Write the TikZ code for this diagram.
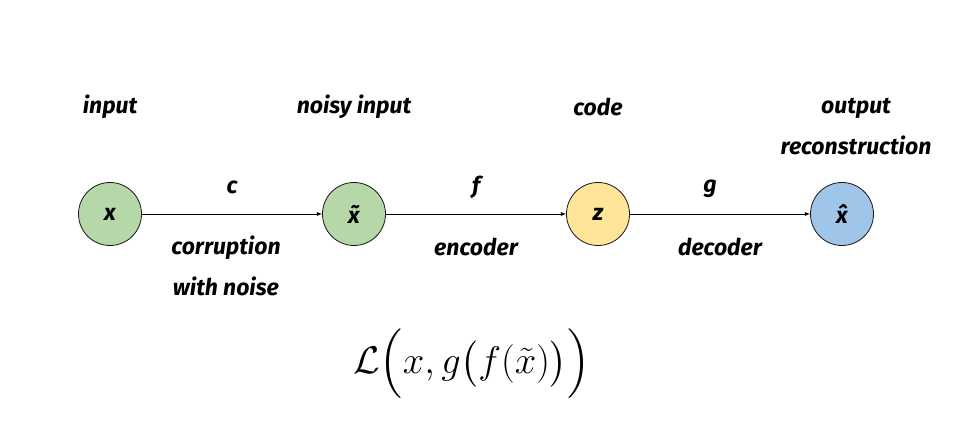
\documentclass[tikz,border=0pt]{standalone}
\usepackage{amsmath}
\usepackage{graphicx}
\usepackage{fontspec}
\setmainfont{Fira Sans}
\usetikzlibrary{arrows,shapes,calc}
\definecolor{ingreen}{HTML}{B6D7A8}
\definecolor{codeyellow}{HTML}{FFE599}
\definecolor{outblue}{HTML}{9FC5E8}
\newcommand{\hand}{\fontsize{23}{41}\selectfont\bfseries\itshape}

\begin{document}
\begin{tikzpicture}[x=1pt, y=-1pt]
\tikzstyle{main}=[circle, draw=black!90, line width=0.8pt, node distance=244pt, minimum size=63pt, font=\hand]
\tikzstyle{lbl}=[font=\hand, align=center, inner sep=0pt]
\tikzstyle{connect}=[-latex, line width=0.8pt]

  \useasboundingbox (0,0) rectangle (974,422);

  % the four stages
  \node[main, fill=ingreen]    (x)  at (110,214)     {x};
  \node[main, fill=ingreen]    (xt) [right of =x]    {x\char"0303};
  \node[main, fill=codeyellow] (z)  [right of =xt]   {z};
  \node[main, fill=outblue]    (xh) [right of =z]    {x\char"0302};

  % names above
  \node[lbl] (inlbl)    [above of =x,  node distance=107pt] {input};
  \node[lbl] (noisylbl) [above of =xt, node distance=107pt] {noisy input};
  \node[lbl] (codelbl)  [above of =z,  node distance=107pt] {code};
  \node[lbl] (outlbl)   [above of =xh, node distance=87pt, xshift=14pt] {output\\reconstruction};

  % mappings
  \path (x) edge [connect]
      node [lbl, midway, yshift=27pt]  (clbl) {c}
      node [lbl, midway, yshift=-52pt, xshift=-6pt] (corrlbl) {corruption\\with noise} (xt);
  \path (xt) edge [connect]
      node [lbl, midway, yshift=27pt]  (flbl) {f}
      node [lbl, midway, yshift=-33pt] (enclbl) {encoder} (z);
  \path (z) edge [connect]
      node [lbl, midway, yshift=25pt, xshift=-10pt] (glbl) {g}
      node [lbl, midway, yshift=-33pt] (declbl) {decoder} (xh);

  % loss
  \node (loss) at (472,364) {\scalebox{1.55}{\Huge
    $\mathcal{L}\Big(x, g\big(f(\tilde{x})\big)\Big)$}};

\end{tikzpicture}
\end{document}
